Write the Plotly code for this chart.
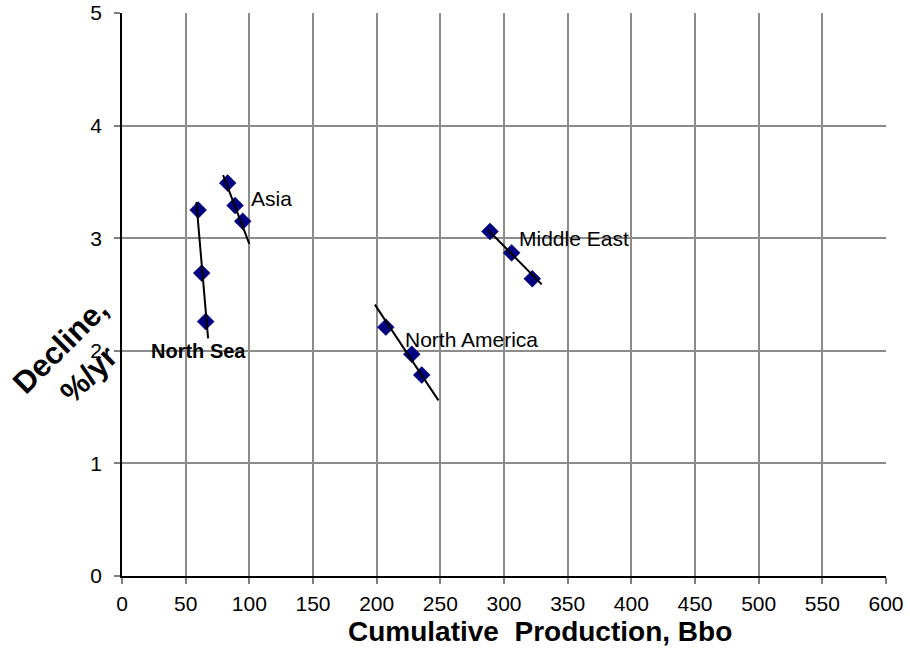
import plotly.graph_objects as go

# Data
regions = ["North Sea", "Asia", "North America", "Middle East"]
north_sea_x = [59.8, 62.6, 65.7]
north_sea_y = [3.25, 2.69, 2.26]
asia_x = [83.0, 88.8, 94.8]
asia_y = [3.49, 3.29, 3.15]
north_america_x = [207.2, 227.6, 235.4]
north_america_y = [2.21, 1.97, 1.785]
middle_east_x = [289.0, 306.0, 322.2]
middle_east_y = [3.06, 2.87, 2.64]

# Trend line end points (as drawn in the reference)
north_sea_trend_x = [58.4, 67.6]
north_sea_trend_y = [3.32, 2.11]
asia_trend_x = [79.4, 100.0]
asia_trend_y = [3.56, 2.95]
north_america_trend_x = [198.6, 248.5]
north_america_trend_y = [2.41, 1.56]
middle_east_trend_x = [287.7, 329.6]
middle_east_trend_y = [3.07, 2.59]

# Label anchor positions (left edge, middle)
label_x = [21.0, 99.5, 220.5, 310.5]
label_y = [2.0, 3.35, 2.1, 3.0]
label_bold = [True, False, False, False]

x_ticks = list(range(0, 601, 50))
y_ticks = [0, 1, 2, 3, 4, 5]

FONT = "Liberation Sans, Arial, sans-serif"

fig = go.Figure()

points = [(north_sea_x, north_sea_y), (asia_x, asia_y),
          (north_america_x, north_america_y), (middle_east_x, middle_east_y)]
trends = [(north_sea_trend_x, north_sea_trend_y), (asia_trend_x, asia_trend_y),
          (north_america_trend_x, north_america_trend_y),
          (middle_east_trend_x, middle_east_trend_y)]

for (px, py) in points:
    fig.add_trace(go.Scatter(x=px, y=py, mode="markers",
                             marker=dict(symbol="diamond", size=13, color="#000080",
                                         line=dict(color="#000066", width=0.5)),
                             showlegend=False, hoverinfo="x+y"))
for (tx, ty) in trends:
    fig.add_trace(go.Scatter(x=tx, y=ty, mode="lines",
                             line=dict(color="black", width=2),
                             showlegend=False, hoverinfo="skip"))

for name, lx, ly, b in zip(regions, label_x, label_y, label_bold):
    fig.add_annotation(x=lx, y=ly, xref="x", yref="y", text=f"<b>{name}</b>" if b else name,
                       showarrow=False, xanchor="left", yanchor="middle",
                       font=dict(family=FONT, size=21 if not b else 20, color="black"))

# Axis titles
fig.add_annotation(xref="paper", yref="paper", x=0.547, y=-0.098,
                   text="<b>Cumulative  Production, Bbo</b>", showarrow=False,
                   xanchor="center", yanchor="middle",
                   font=dict(family=FONT, size=28, color="black"))
fig.add_annotation(xref="paper", yref="paper", x=0, xshift=-48, y=0.383,
                   text="<b>Decline,<br>%/yr</b>", showarrow=False, textangle=-45,
                   xanchor="center", yanchor="middle",
                   font=dict(family=FONT, size=31, color="black"))

fig.update_layout(
    width=910, height=652,
    margin=dict(l=121.5, r=23.5, t=12.7, b=76),
    paper_bgcolor="white", plot_bgcolor="white",
    font=dict(family=FONT, size=21, color="black"),
    showlegend=False,
)
fig.update_xaxes(range=[0, 600], tickvals=x_ticks, ticks="outside", ticklen=6,
                 tickcolor="#808080", tickwidth=1.5, showgrid=True, gridcolor="#8c8c8c",
                 gridwidth=1.5, showline=True, linecolor="black", linewidth=1.5,
                 zeroline=False, tickfont=dict(size=21), ticklabelstandoff=2,
                 automargin=False)
fig.update_yaxes(range=[0, 5], tickvals=y_ticks, ticks="outside", ticklen=6,
                 tickcolor="#808080", tickwidth=1.5, showgrid=True, gridcolor="#8c8c8c",
                 gridwidth=1.5, showline=True, linecolor="black", linewidth=1.5,
                 zeroline=False, tickfont=dict(size=21), ticklabelstandoff=8,
                 automargin=False)

fig.write_html("out.html", config={"displayModeBar": False},
               post_script="document.body.style.margin='0';document.body.style.overflow='hidden';")
